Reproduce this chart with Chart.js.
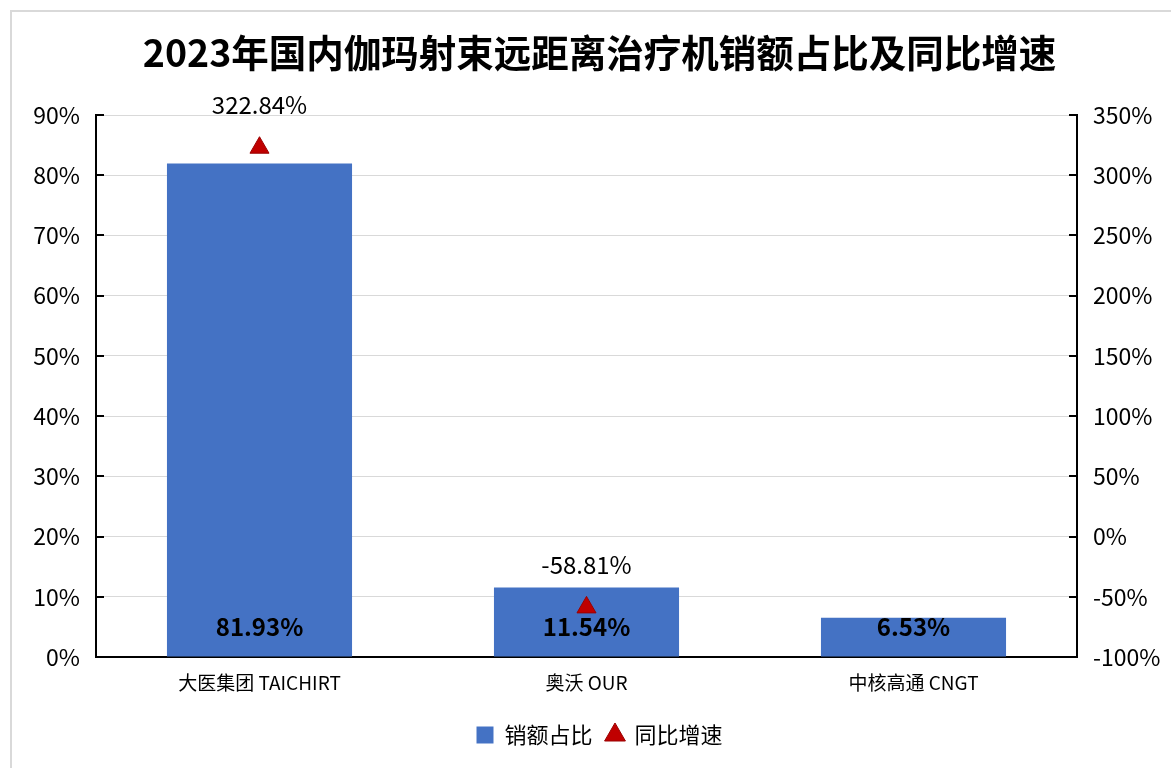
<!DOCTYPE html>
<html>
<head>
<meta charset="utf-8">
<script src="https://cdn.jsdelivr.net/npm/chart.js@4"></script>
<style>
  html, body { margin: 0; padding: 0; background: #fff; }
  .frame { position: absolute; left: 10px; top: 10px; width: 1200px; height: 800px; border: 2px solid #d9d9d9; box-sizing: border-box; }
  .wrap { position: absolute; left: 28px; top: 0; width: 1143px; height: 768px; }
</style>
</head>
<body>
<div class="frame"></div>
<div class="wrap"><canvas id="chart"></canvas></div>
<script>
  // 数据
  const categories = ['大医集团 TAICHIRT', '奥沃 OUR', '中核高通 CNGT'];
  const shareValues = [81.93, 11.54, 6.53];      // 销额占比 (%)
  const growthValues = [322.84, -58.81, null];    // 同比增速 (%)

  const font = '"Noto Sans CJK SC", "Noto Sans", sans-serif';
  const barColor = '#4472C4';
  const triColor = '#C00000';
  const txt = '#000';

  // 左右轴刻度朝内
  const innerTicks = {
    id: 'innerTicks',
    afterDatasetsDraw(chart) {
      const { ctx, chartArea, scales } = chart;
      ctx.save();
      ctx.strokeStyle = '#000';
      ctx.lineWidth = 2;
      scales.y.ticks.forEach(t => {
        const y = Math.round(scales.y.getPixelForValue(t.value));
        ctx.beginPath(); ctx.moveTo(chartArea.left, y); ctx.lineTo(chartArea.left + 8, y); ctx.stroke();
      });
      scales.y1.ticks.forEach(t => {
        const y = Math.round(scales.y1.getPixelForValue(t.value));
        ctx.beginPath(); ctx.moveTo(chartArea.right - 8, y); ctx.lineTo(chartArea.right, y); ctx.stroke();
      });
      ctx.restore();
    },
  };

  // 数据标签
  const valueLabels = {
    id: 'valueLabels',
    afterDatasetsDraw(chart) {
      const { ctx } = chart;
      ctx.save();
      ctx.textAlign = 'center';
      ctx.textBaseline = 'middle';
      ctx.fillStyle = txt;
      const bars = chart.getDatasetMeta(0).data;
      ctx.font = 'bold 24px ' + font;
      bars.forEach((b, i) => ctx.fillText(shareValues[i].toFixed(2) + '%', b.x, b.base - 30));
      const pts = chart.getDatasetMeta(1).data;
      ctx.font = '24px ' + font;
      pts.forEach((p, i) => {
        if (growthValues[i] === null) return;
        ctx.fillText(growthValues[i].toFixed(2) + '%', p.x, p.y - 43);
      });
      ctx.restore();
    },
  };

  new Chart(document.getElementById('chart'), {
    data: {
      labels: categories,
      datasets: [
        {
          type: 'bar',
          label: '销额占比',
          data: shareValues,
          backgroundColor: barColor,
          yAxisID: 'y',
          categoryPercentage: 1,
          barPercentage: 0.566,
          pointStyle: 'rect',
          order: 2,
        },
        {
          type: 'line',
          label: '同比增速',
          data: growthValues,
          yAxisID: 'y1',
          showLine: false,
          pointStyle: 'triangle',
          pointRadius: 11,
          pointHoverRadius: 11,
          pointBackgroundColor: triColor,
          pointBorderColor: '#9a0000',
          pointBorderWidth: 1,
          backgroundColor: triColor,
          borderColor: triColor,
          order: 1,
        },
      ],
    },
    options: {
      responsive: true,
      maintainAspectRatio: false,
      animation: false,
      layout: { padding: { left: 0, right: 0, top: 10, bottom: 12 } },
      plugins: {
        title: {
          display: true,
          text: '2023年国内伽玛射束远距离治疗机销额占比及同比增速',
          color: txt,
          font: { family: font, size: 37.5, weight: 'bold' },
          padding: { top: 20, bottom: 40 },
        },
        legend: {
          position: 'bottom',
          labels: {
            usePointStyle: true,
            boxWidth: 17,
            boxHeight: 17,
            padding: 14,
            color: txt,
            font: { family: font, size: 22 },
            sort: (a, b) => a.datasetIndex - b.datasetIndex,
          },
        },
        tooltip: { enabled: false },
      },
      scales: {
        x: {
          grid: { display: false, drawTicks: false },
          border: { color: '#000', width: 2 },
          ticks: { color: txt, font: { family: font, size: 19 }, padding: 14 },
          afterFit: s => { s.height = 53; },
        },
        y: {
          position: 'left',
          min: 0, max: 90,
          ticks: { stepSize: 10, color: txt, font: { family: font, size: 23 }, padding: 16, callback: v => v + '%' },
          grid: { color: '#d9d9d9', drawTicks: false },
          border: { color: '#000', width: 2 },
          afterFit: s => { s.width = 68; },
        },
        y1: {
          position: 'right',
          min: -100, max: 350,
          ticks: { stepSize: 50, color: txt, font: { family: font, size: 23 }, padding: 16, callback: v => v + '%' },
          grid: { display: false, drawTicks: false },
          border: { color: '#000', width: 2 },
          afterFit: s => { s.width = 94; },
        },
      },
    },
    plugins: [innerTicks, valueLabels],
  });
</script>
</body>
</html>
